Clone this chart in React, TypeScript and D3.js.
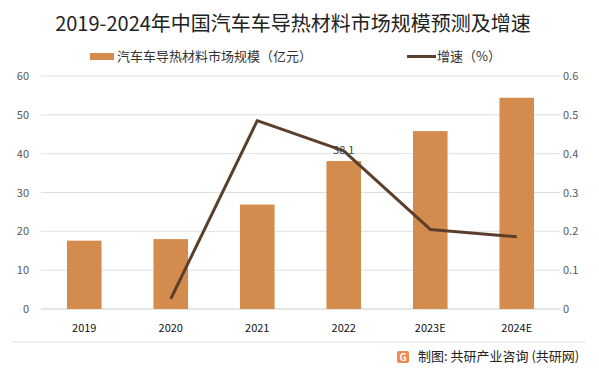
import * as d3 from 'd3';

const categories = ['2019', '2020', '2021', '2022', '2023E', '2024E'];
const marketSize = [17.6, 18.0, 26.9, 38.1, 45.8, 54.4];
const growth: (number | null)[] = [null, 0.026, 0.485, 0.407, 0.205, 0.186];
const leftTicks = [0, 10, 20, 30, 40, 50, 60];
const rightTicks = [0, 0.1, 0.2, 0.3, 0.4, 0.5, 0.6];

const W = 599;
const H = 373;
const M = { top: 76, right: 39, bottom: 64, left: 41 };
const BAR = '#d48b4e';
const LINE = '#5b3f2b';
const FONT = '"Microsoft YaHei", "Noto Sans CJK SC", "Noto Sans", sans-serif';

export default function App() {
  const x = d3.scaleBand().domain(categories).range([M.left, W - M.right]).paddingInner(0.6).paddingOuter(0.3);
  const xc = (c: string) => (x(c) ?? 0) + x.bandwidth() / 2;
  const y = d3.scaleLinear().domain([0, 60]).range([H - M.bottom, M.top]);
  const y2 = d3.scaleLinear().domain([0, 0.6]).range([H - M.bottom, M.top]);

  const pts = categories
    .map((c, i) => ({ c, v: growth[i] }))
    .filter((d) => d.v !== null) as { c: string; v: number }[];
  const line = d3.line<{ c: string; v: number }>().x((d) => xc(d.c)).y((d) => y2(d.v));

  return (
    <svg width={W} height={H} style={{ position: 'absolute', left: 0, top: 0, fontFamily: FONT }}>
      <rect width={W} height={H} fill="#fff" />
      <text x={293} y={31} textAnchor="middle" fontSize={20} fill="#222">
        2019-2024年中国汽车车导热材料市场规模预测及增速
      </text>
      {/* legend */}
      <rect x={90} y={53} width={24} height={7} fill={BAR} />
      <text x={117} y={61} fontSize={13} fill="#333">汽车车导热材料市场规模（亿元）</text>
      <line x1={407} x2={436} y1={56.5} y2={56.5} stroke={LINE} strokeWidth={3} />
      <text x={437} y={61} fontSize={13} fill="#333">增速（%）</text>

      {leftTicks.map((t) => (
        <g key={t}>
          <line x1={M.left} x2={W - M.right} y1={y(t)} y2={y(t)} stroke={t === 0 ? '#cfcfcf' : '#e0e0e0'} strokeWidth={1} />
          <text x={29} y={y(t) + 4} textAnchor="end" fontSize={11} fill="#595959">{t}</text>
        </g>
      ))}
      {rightTicks.map((t) => (
        <text key={t} x={563} y={y2(t) + 4} fontSize={11} fill="#595959">{t}</text>
      ))}

      {categories.map((c, i) => (
        <g key={c}>
          <rect x={x(c)} y={y(marketSize[i])} width={x.bandwidth()} height={y(0) - y(marketSize[i])} fill={BAR} />
          <text x={xc(c)} y={H - M.bottom + 23} textAnchor="middle" fontSize={11} fill="#111">{c}</text>
        </g>
      ))}

      <path d={line(pts) ?? ''} fill="none" stroke={LINE} strokeWidth={3} strokeLinejoin="round" />
      <text x={xc('2022')} y={y(marketSize[3]) - 7} textAnchor="middle" fontSize={11} fill="#404040">
        {marketSize[3]}
      </text>

      {/* footer */}
      <line x1={12} x2={586} y1={342} y2={342} stroke="#e3e3e3" strokeWidth={1} />
      <g transform="translate(397,351)">
        <rect width={12} height={12} rx={2} fill="#f08a4b" />
        <text x={6} y={10} textAnchor="middle" fontSize={10} fontWeight="bold" fill="#fff">G</text>
      </g>
      <text x={418} y={361} fontSize={13} fill="#222">制图: 共研产业咨询 (共研网)</text>
    </svg>
  );
}
